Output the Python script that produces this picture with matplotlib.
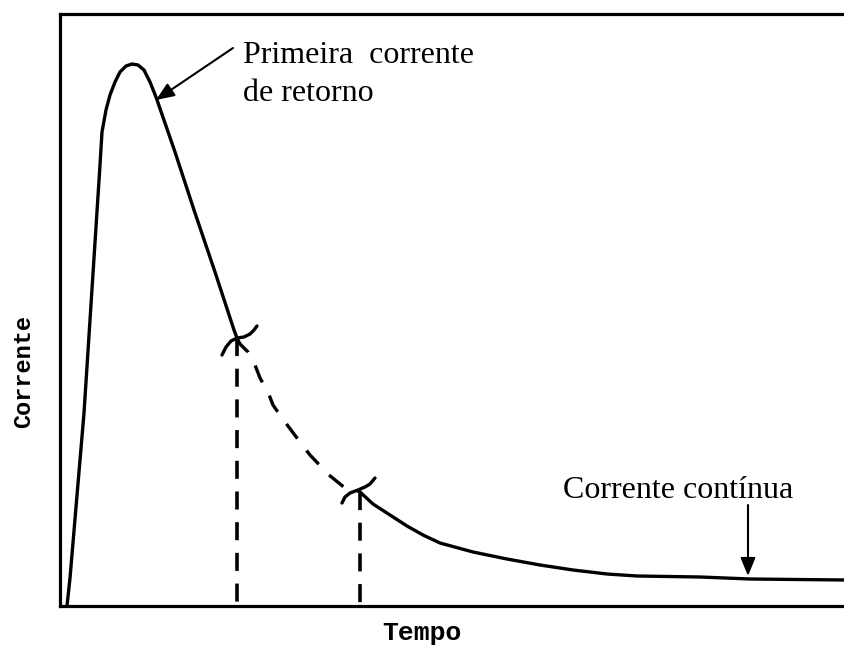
import matplotlib
matplotlib.use("Agg")
import matplotlib.pyplot as plt

# Data (time, current) in arbitrary units
rise_t = [7, 10, 24, 32, 40, 42, 46, 50, 55, 60, 66, 72, 78, 84, 90, 96, 115, 134, 155, 174, 177]
rise_i = [0, 28, 193, 317, 441, 474, 496, 511, 524, 534, 540, 542, 541, 536, 524, 509, 454, 396, 334, 276, 268]

dash_t = [177, 180, 188, 195, 200, 208, 213, 222, 231, 240, 250, 269, 285, 298]
dash_i = [268, 262, 254, 241, 228, 214, 201, 188, 176, 164, 151, 131, 118, 115]

tail_t = [298, 300, 313, 330, 347, 363, 380, 413, 447, 480, 513, 547, 577, 640, 690, 785]
tail_i = [115, 114, 102, 91, 80, 71, 63, 54, 47, 41, 36, 32, 30, 29, 27, 26]

mark1_t = [162, 166, 171, 177, 184, 190, 194, 197]
mark1_i = [251, 259, 265, 268, 269, 272, 276, 280]
mark2_t = [282, 285, 290, 298, 305, 310, 315]
mark2_i = [103, 109, 113, 116, 119, 122, 128]

break_t = [177, 300]
break_i = [268, 114]

W, H = 845, 648
fig = plt.figure(figsize=(W / 100, H / 100), dpi=100)
ax = fig.add_axes([60 / W, 42 / H, 785 / W, 592 / H])
ax.set_xlim(0, 785)
ax.set_ylim(0, 592)
ax.set_xticks([])
ax.set_yticks([])
for s in ["left", "top", "bottom"]:
    ax.spines[s].set_linewidth(2.3)
ax.spines["right"].set_visible(False)

lw = 2.4
ax.plot(rise_t, rise_i, color="black", lw=lw, solid_capstyle="round", solid_joinstyle="round")
ax.plot(tail_t, tail_i, color="black", lw=lw, solid_capstyle="round", solid_joinstyle="round")
dl, = ax.plot(dash_t, dash_i, color="black", lw=lw)
dl.set_dashes([5.5, 4.5])
ax.plot(mark1_t, mark1_i, color="black", lw=lw, solid_capstyle="round", solid_joinstyle="round")
ax.plot(mark2_t, mark2_i, color="black", lw=lw, solid_capstyle="round", solid_joinstyle="round")

# vertical dashed lines
v1, = ax.plot([break_t[0], break_t[0]], [break_i[0], -6], color="black", lw=2.6, clip_on=False)
v1.set_dashes([5, 3.5])
v2, = ax.plot([break_t[1], break_t[1]], [break_i[1], 0], color="black", lw=2.6)
v2.set_dashes([5, 3.5])

serif = ["Liberation Serif", "DejaVu Serif"]
fs = 23
ax.annotate("", xy=(96, 506), xytext=(173, 558),
            arrowprops=dict(arrowstyle="-|>,head_length=1.1,head_width=0.45", color="black", lw=1.5,
                            shrinkA=0, shrinkB=0))
ax.text(183, 543, "Primeira  corrente", family=serif, fontsize=fs, ha="left", va="baseline")
ax.text(183, 505, "de retorno", family=serif, fontsize=fs, ha="left", va="baseline")

ax.annotate("", xy=(688, 30), xytext=(688, 101),
            arrowprops=dict(arrowstyle="-|>,head_length=1.1,head_width=0.45", color="black", lw=1.5,
                            shrinkA=0, shrinkB=0))
ax.text(503, 108, "Corrente contínua", family=serif, fontsize=fs, ha="left", va="baseline")

mono = ["Liberation Mono", "DejaVu Sans Mono"]
fig.text(422 / W, 1 - 633 / H, "Tempo", family=mono, fontweight="bold", fontsize=19,
         ha="center", va="center")
fig.text(24 / W, 1 - 371 / H, "Corrente", family=mono, fontweight="bold", fontsize=17,
         ha="center", va="center", rotation=90)

fig.savefig("out.png", dpi=100)
